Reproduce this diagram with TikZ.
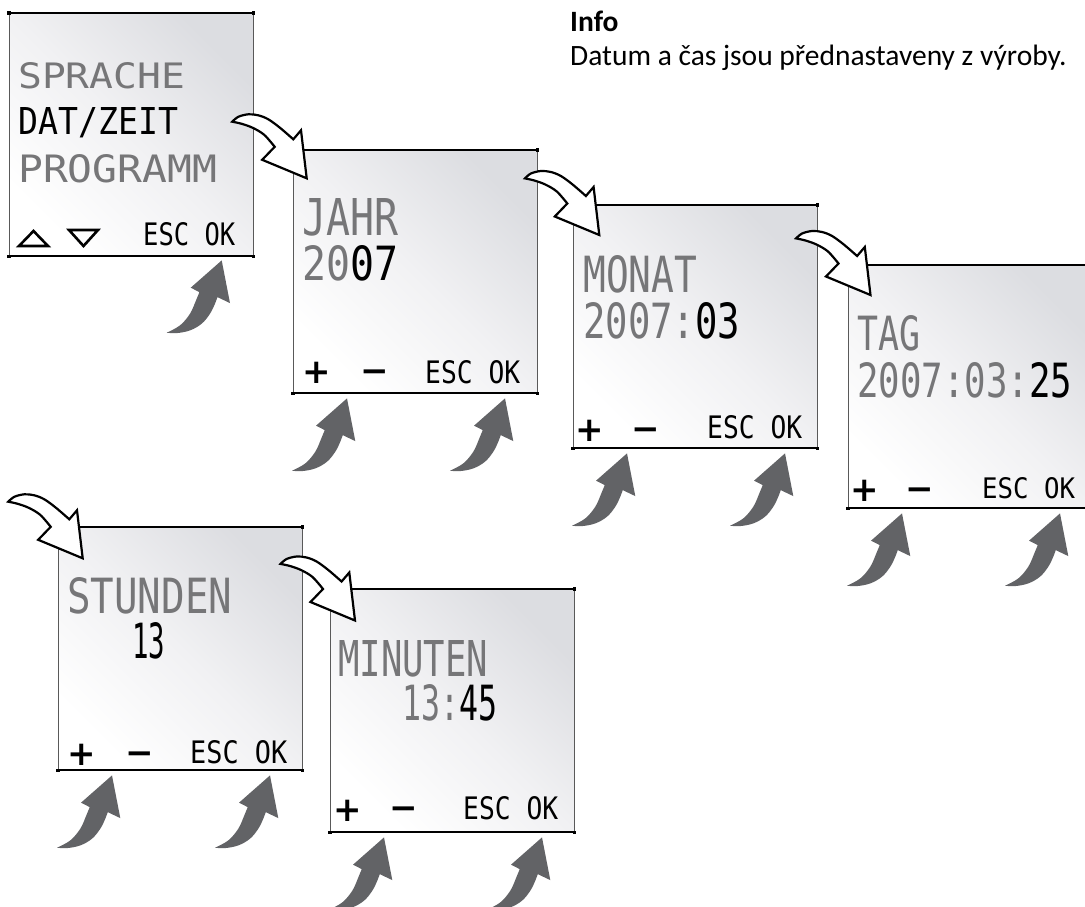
\documentclass[tikz,border=0pt]{standalone}
\usepackage{fontspec}
\setmainfont{Carlito}
\newfontfamily\lcdfont{DejaVu Sans Mono}
\newfontfamily\symfont{DejaVu Sans}
\usetikzlibrary{calc}
\definecolor{lcdgray}{RGB}{118,118,120}
\definecolor{lcdshade}{RGB}{220,221,225}
\definecolor{lcdmid}{RGB}{241,241,243}
\definecolor{arrowgray}{RGB}{98,99,102}
\newcommand{\lcd}[3]{\resizebox{#1pt}{#2pt}{\lcdfont #3}}
\newcommand{\gr}[1]{\textcolor{lcdgray}{#1}}
\tikzset{
  screen/.style={anchor=north west, minimum width=244pt, minimum height=243pt,
    inner sep=0pt, top color=lcdshade, bottom color=white, middle color=lcdmid,
    shading angle=-45},
  lcdtext/.style={anchor=base west, inner sep=0pt},
  pmsign/.style={anchor=base, inner sep=0pt, font=\symfont\bfseries\fontsize{34}{34}\selectfont},
  tri/.style={line width=2.6pt, line join=miter},
  whitearrow/.pic={
    \draw[fill=white, draw=black, line width=2.2pt, line join=miter, miter limit=6]
      plot[smooth, tension=0.55] coordinates {(-74.4,-56.6) (-68.4,-61.5) (-58.4,-64) (-48.4,-63) (-38.4,-59) (-26.7,-50.5) (-13.4,-39)}
      -- (-5.7,-48) -- (0,0) -- (-44.5,-18.5) --
      plot[smooth, tension=0.55] coordinates {(-32,-31.5) (-42.5,-43.5) (-54,-50.5) (-65,-54.5) (-74.4,-56.6)} -- cycle;
  },
  grayarrow/.pic={
    \fill[arrowgray] (0,0) -- (8.3,42.7) --
      plot[smooth, tension=0.6] coordinates {(-4.3,36.7) (-6.7,43.3) (-11.7,53.3) (-20,63.3) (-31.7,70) (-45,72.7) (-55,72.3)}
      -- plot[smooth, tension=0.6] coordinates {(-55,72.3) (-41.7,65) (-31.7,53.3) (-25.7,40) (-22.3,31.7)}
      -- (-31,27.3) -- cycle;
  },
}
\newcommand{\lcdscreen}[3]{%
  \node[screen] (#1) at (#2,#3) {};
  \draw[black!65, line width=0.8pt] (#1.north west) rectangle (#1.south east);
  \draw[black, line width=1.2pt] (#1.north west) -- (#1.north east);
  \draw[black, line width=2pt] (#1.south west) -- (#1.south east);
  \foreach \c in {north west, north east, south west, south east}
    \fill[black] (#1.\c) ++(-1.6,-1.6) rectangle ++(3.2,3.2);
}
\begin{document}
\begin{tikzpicture}[x=1pt,y=-1pt]
\useasboundingbox (0,0) rectangle (1085,906);
\fill[white] (0,0) rectangle (1085,906);

% info text
\node[anchor=base west, inner sep=0pt, font=\bfseries\fontsize{29.5}{35}\selectfont] (info) at (570,31) {Info};
\node[anchor=base west, inner sep=0pt, font=\fontsize{29.5}{35}\selectfont] (infotext) at (570,65.5) {Datum a čas jsou přednastaveny z výroby.};

% screens
\lcdscreen{s1}{9}{13}
\lcdscreen{s2}{293}{150}
\lcdscreen{s3}{573}{205}
\lcdscreen{s4}{848}{265}
\lcdscreen{s5}{58}{527}
\lcdscreen{s6}{330}{589}

% screen 1
\begin{scope}[shift={(s1.north west)}]
  \node[lcdtext] (s1a) at (9,75)  {\lcd{167}{26}{\gr{SPRACHE}}};
  \node[lcdtext] (s1b) at (9,121) {\lcd{160}{27}{DAT/ZEIT}};
  \node[lcdtext] (s1c) at (9,169) {\lcd{199}{28}{\gr{PROGRAMM}}};
  \node[lcdtext] (s1k) at (134,232) {\lcd{92}{23}{ESC OK}};
  \draw[tri] (10,233) -- (39,233) -- (24.5,218) -- cycle;
  \draw[tri] (60,217) -- (89,217) -- (74.5,233) -- cycle;
\end{scope}

% screen 2
\begin{scope}[shift={(s2.north west)}]
  \node[lcdtext] (s2a) at (9,85)  {\lcd{96}{37}{\gr{JAHR}}};
  \node[lcdtext] (s2b) at (9,130) {\lcd{96}{35}{\gr{20}07}};
  \node[pmsign] (s2p) at (23.5,233) {+};
  \node[pmsign] (s2m) at (81.5,232) {−};
  \node[lcdtext] (s2k) at (132,233) {\lcd{95}{23}{ESC OK}};
\end{scope}

% screen 3
\begin{scope}[shift={(s3.north west)}]
  \node[lcdtext] (s3a) at (10,87)  {\lcd{114}{37}{\gr{MONAT}}};
  \node[lcdtext] (s3b) at (10,133) {\lcd{157}{36}{\gr{2007:}03}};
  \node[pmsign] (s3p) at (17,236) {+};
  \node[pmsign] (s3m) at (73,235) {−};
  \node[lcdtext] (s3k) at (134,233) {\lcd{95}{23}{ESC OK}};
\end{scope}

% screen 4
\begin{scope}[shift={(s4.north west)}]
  \node[lcdtext] (s4a) at (9,85)  {\lcd{63}{35}{\gr{TAG}}};
  \node[lcdtext] (s4b) at (9,132) {\lcd{215}{35}{\gr{2007:03:}25}};
  \node[pmsign] (s4p) at (17,236) {+};
  \node[pmsign] (s4m) at (72,235) {−};
  \node[lcdtext] (s4k) at (134,233) {\lcd{93}{21}{ESC OK}};
\end{scope}

% screen 5
\begin{scope}[shift={(s5.north west)}]
  \node[lcdtext] (s5a) at (9,86)  {\lcd{165}{36}{\gr{STUNDEN}}};
  \node[lcdtext] (s5b) at (74,131) {\lcd{33}{36}{13}};
  \node[pmsign] (s5p) at (23.5,238.5) {+};
  \node[pmsign] (s5m) at (82,237) {−};
  \node[lcdtext] (s5k) at (132,236) {\lcd{97}{23}{ESC OK}};
\end{scope}

% screen 6
\begin{scope}[shift={(s6.north west)}]
  \node[lcdtext] (s6a) at (8,87)  {\lcd{150}{36}{\gr{MINUTEN}}};
  \node[lcdtext] (s6b) at (72,131) {\lcd{95}{36}{\gr{13:}45}};
  \node[pmsign] (s6p) at (17.5,232) {+};
  \node[pmsign] (s6m) at (73.5,230) {−};
  \node[lcdtext] (s6k) at (133,230) {\lcd{95}{23}{ESC OK}};
\end{scope}

% white transition arrows
\pic at ($(s2.north west)+(13.7,28.3)$) {whitearrow};
\pic at ($(s3.north west)+(26.3,30)$) {whitearrow};
\pic at ($(s4.north west)+(22.5,30)$) {whitearrow};
\pic at ($(s5.north west)+(24.7,31.3)$) {whitearrow};
\pic at ($(s6.north west)+(25,31.5)$) {whitearrow};

% grey button arrows
\pic at ($(s1.south west)+(212.7,4)$) {grayarrow};
\foreach \s in {s2,s3,s4,s5,s6} {
  \pic at ($(\s.south west)+(54,5)$) {grayarrow};
  \pic at ($(\s.south west)+(212,5)$) {grayarrow};
}
\end{tikzpicture}
\end{document}
